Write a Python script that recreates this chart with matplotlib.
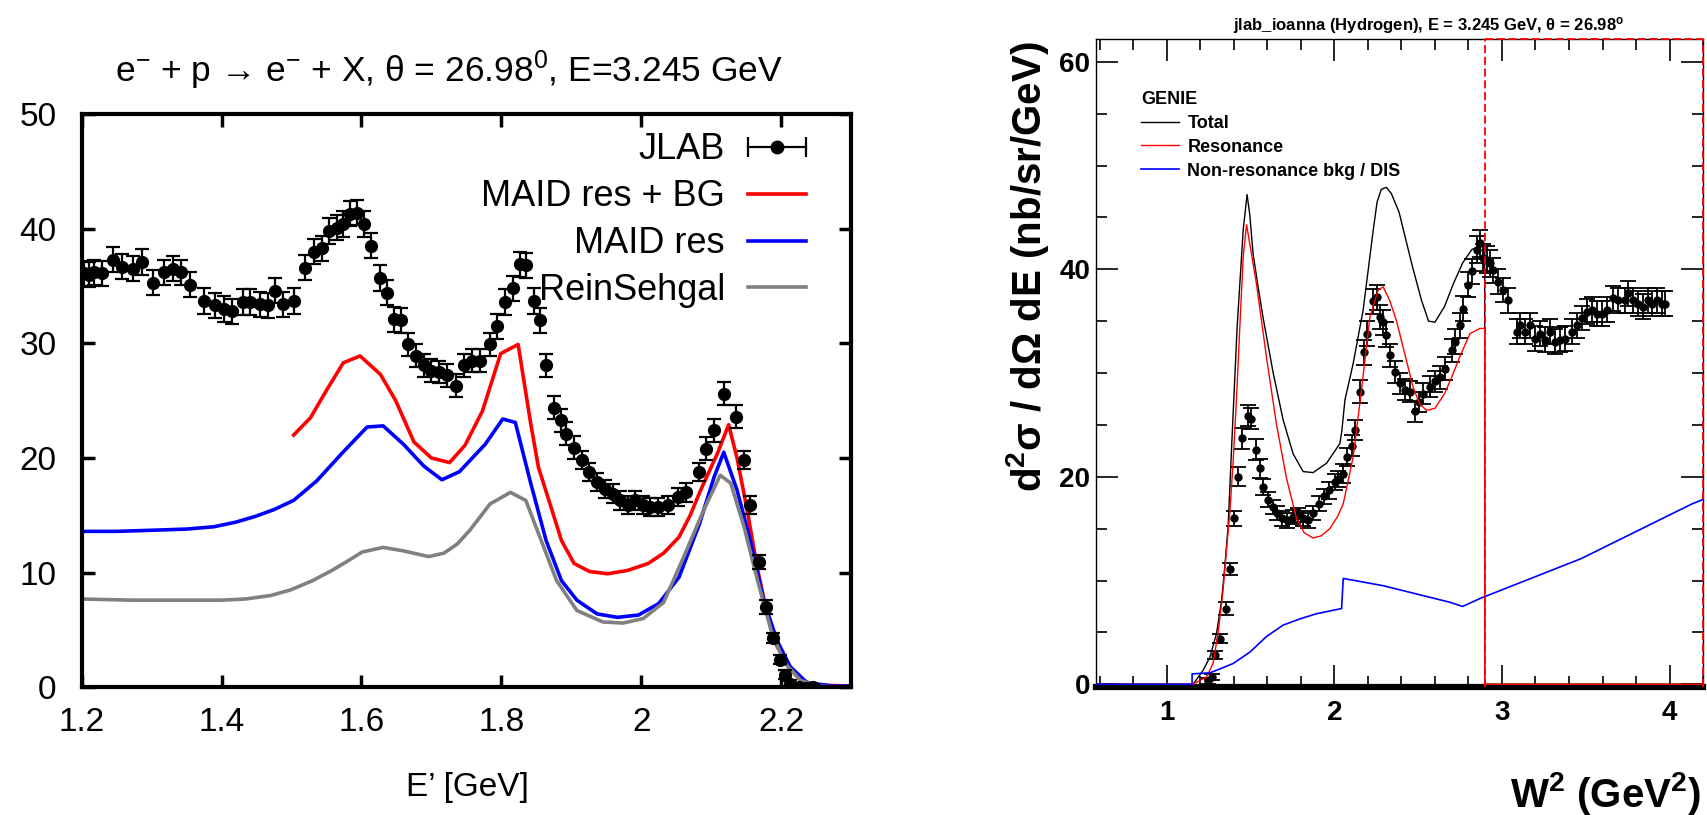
import matplotlib
matplotlib.use("Agg")
import matplotlib.pyplot as plt
from matplotlib.lines import Line2D
from matplotlib.legend_handler import HandlerLine2D

plt.rcParams['font.family'] = ['Liberation Sans', 'DejaVu Sans']
plt.rcParams['mathtext.fontset'] = 'custom'
plt.rcParams['mathtext.rm'] = 'Liberation Sans'
plt.rcParams['mathtext.it'] = 'Liberation Sans:italic'
plt.rcParams['mathtext.bf'] = 'Liberation Sans:bold'

# ---------------- left panel: E' spectrum ----------------
ep_data = [1.204, 1.211, 1.218, 1.229, 1.245, 1.258, 1.274, 1.286, 1.302, 1.317, 1.331, 1.342, 1.355,
           1.375, 1.390, 1.404, 1.415, 1.430, 1.441, 1.455, 1.466, 1.477, 1.488, 1.503,
           1.519, 1.532, 1.543, 1.554, 1.565, 1.574, 1.583, 1.594, 1.603, 1.614,
           1.627, 1.636, 1.646, 1.656, 1.667, 1.678, 1.689, 1.700, 1.711, 1.722, 1.735,
           1.746, 1.758, 1.769, 1.784, 1.794, 1.805, 1.816, 1.827, 1.835, 1.846, 1.855, 1.864, 1.875,
           1.886, 1.893, 1.904, 1.915, 1.926, 1.937, 1.948, 1.959, 1.970, 1.981, 1.991, 2.002, 2.013,
           2.024, 2.039, 2.053, 2.064,
           2.082, 2.092, 2.104, 2.118, 2.135, 2.147, 2.156, 2.168, 2.179, 2.189, 2.199, 2.205, 2.213,
           2.225, 2.236, 2.245]
jlab_val = [36.1, 36.0, 36.2, 36.1, 37.3, 36.7, 36.5, 37.1, 35.3, 36.2, 36.5, 36.2, 35.1,
            33.7, 33.3, 33.0, 32.8, 33.6, 33.6, 33.4, 33.3, 34.6, 33.4, 33.7,
            36.6, 38.0, 38.3, 39.8, 40.1, 40.4, 41.3, 41.4, 40.4, 38.5,
            35.7, 34.4, 32.1, 32.0, 29.9, 28.9, 28.1, 27.6, 27.5, 27.2, 26.3,
            28.1, 28.5, 28.5, 29.9, 31.5, 33.6, 34.8, 36.9, 36.8, 33.7, 32.0, 28.1, 24.4,
            23.3, 22.1, 20.9, 19.8, 18.8, 17.9, 17.3, 16.9, 16.3, 15.9, 16.3, 15.9, 15.7,
            15.7, 15.9, 16.6, 17.0,
            18.8, 20.8, 22.4, 25.6, 23.6, 19.8, 15.9, 10.9, 7.0, 4.3, 2.4, 1.1, 0.3,
            0.0, -0.1, 0.0]
jlab_err = [1.1, 1.1, 1.1, 1.1, 1.1, 1.1, 1.1, 1.1, 1.1, 1.1, 1.1, 1.1, 1.1,
            1.1, 1.1, 1.1, 1.1, 1.1, 1.1, 1.1, 1.1, 1.1, 1.1, 1.1,
            1.1, 1.1, 1.1, 1.1, 1.1, 1.1, 1.1, 1.1, 1.1, 1.1,
            1.1, 1.1, 1.1, 1.1, 1.0, 1.0, 1.0, 1.0, 1.0, 1.0, 1.0,
            1.0, 1.0, 1.0, 1.0, 1.1, 1.1, 1.1, 1.1, 1.1, 1.1, 1.1, 1.0, 1.0,
            1.0, 1.0, 1.0, 0.8, 0.8, 0.8, 0.8, 0.8, 0.8, 0.8, 0.8, 0.8, 0.8,
            0.8, 0.8, 0.8, 0.8,
            0.8, 1.0, 1.0, 1.0, 1.0, 0.8, 0.8, 0.6, 0.6, 0.4, 0.4, 0.4, 0.3,
            0.3, 0.3, 0.3]

ep_maid_bg = [1.503, 1.527, 1.550, 1.574, 1.598, 1.627, 1.649, 1.675, 1.700, 1.726, 1.748, 1.773,
              1.799, 1.824, 1.842, 1.853, 1.868, 1.886, 1.904, 1.926, 1.952, 1.981, 2.010, 2.032,
              2.054, 2.070, 2.085, 2.109, 2.125, 2.137, 2.151, 2.166, 2.180, 2.194, 2.209, 2.228,
              2.252, 2.300]
xs_maid_bg = [22.0, 23.5, 25.9, 28.3, 28.9, 27.3, 25.0, 21.4, 20.0, 19.6, 21.1, 24.1,
              29.1, 29.9, 23.0, 19.2, 16.3, 12.8, 10.8, 10.1, 9.9, 10.2, 10.8, 11.7,
              13.1, 15.0, 17.2, 20.4, 22.9, 20.0, 15.6, 10.4, 6.4, 3.6, 1.9, 0.6,
              0.2, 0.1]

ep_maid = [1.200, 1.250, 1.302, 1.350, 1.389, 1.420, 1.448, 1.475, 1.503, 1.536, 1.572, 1.608,
           1.631, 1.660, 1.689, 1.715, 1.740, 1.777, 1.802, 1.820, 1.842, 1.864, 1.886, 1.908,
           1.937, 1.966, 1.996, 2.025, 2.054, 2.083, 2.104, 2.118, 2.137, 2.156, 2.175, 2.194,
           2.213, 2.237, 2.275, 2.300]
xs_maid = [13.6, 13.6, 13.7, 13.8, 14.0, 14.4, 14.9, 15.5, 16.3, 18.0, 20.4, 22.7,
           22.8, 21.2, 19.3, 18.1, 18.8, 21.2, 23.4, 23.1, 17.8, 12.8, 9.3, 7.6,
           6.4, 6.1, 6.3, 7.3, 9.6, 14.2, 18.3, 20.5, 17.2, 12.8, 7.6, 4.1,
           1.8, 0.4, 0.1, 0.1]

ep_rs = [1.200, 1.270, 1.339, 1.400, 1.434, 1.470, 1.499, 1.530, 1.558, 1.580, 1.601, 1.631,
         1.660, 1.696, 1.718, 1.737, 1.755, 1.784, 1.813, 1.835, 1.857, 1.879, 1.908, 1.945,
         1.974, 2.003, 2.032, 2.061, 2.089, 2.113, 2.128, 2.147, 2.166, 2.185, 2.204, 2.228,
         2.252, 2.300]
xs_rs = [7.7, 7.6, 7.6, 7.6, 7.7, 8.0, 8.5, 9.3, 10.2, 11.0, 11.8, 12.2,
         11.9, 11.4, 11.7, 12.5, 13.7, 16.0, 17.0, 16.3, 12.8, 9.3, 6.7, 5.7,
         5.6, 6.0, 7.4, 11.4, 15.4, 18.5, 17.8, 14.0, 9.4, 5.1, 2.2, 0.6,
         0.1, 0.0]

ep_ticks = [1.2, 1.4, 1.6, 1.8, 2.0, 2.2]
ep_tick_labels = ['1.2', '1.4', '1.6', '1.8', '2', '2.2']
left_yticks = [0, 10, 20, 30, 40, 50]
left_labels = ['JLAB', 'MAID res + BG', 'MAID res', 'ReinSehgal']

# ---------------- right panel: W^2 spectrum ----------------
w2_data = [1.245, 1.270, 1.290, 1.316, 1.356, 1.376, 1.400, 1.426, 1.450, 1.482,
           1.501, 1.530, 1.555, 1.575, 1.605, 1.631, 1.655, 1.685, 1.715, 1.754,
           1.784, 1.814, 1.844, 1.873, 1.909, 1.939, 1.969, 2.003, 2.023, 2.053,
           2.073, 2.103, 2.122, 2.152, 2.176, 2.196, 2.228, 2.252, 2.272, 2.291,
           2.311, 2.331, 2.361, 2.391, 2.421, 2.451, 2.480, 2.507, 2.530, 2.570,
           2.600, 2.630, 2.660, 2.700, 2.719, 2.749, 2.765, 2.799, 2.819, 2.849,
           2.869, 2.888, 2.909, 2.928, 2.948, 2.978, 3.008, 3.038, 3.088, 3.107,
           3.137, 3.167, 3.197, 3.227, 3.257, 3.287, 3.316, 3.346, 3.376, 3.416,
           3.446, 3.476, 3.506, 3.536, 3.565, 3.595, 3.625, 3.665, 3.694, 3.734,
           3.754, 3.784, 3.814, 3.844, 3.873, 3.894, 3.924, 3.953, 3.973]
w2_val = [0.3, 0.7, 2.8, 4.4, 7.3, 11.1, 16.0, 20.0, 23.7, 25.9,
          25.6, 22.6, 20.8, 19.0, 17.8, 17.1, 16.5, 16.0, 15.8, 16.1,
          16.3, 16.0, 15.8, 16.5, 17.4, 18.1, 18.7, 19.5, 19.8, 20.3,
          21.9, 23.0, 24.5, 28.2, 32.0, 33.8, 36.9, 37.3, 35.4, 34.9,
          33.7, 31.7, 30.1, 29.0, 28.4, 28.2, 26.3, 27.2, 28.0, 28.7,
          29.2, 29.6, 30.4, 32.2, 33.0, 34.6, 36.2, 38.5, 39.8, 41.9,
          42.5, 41.1, 40.9, 40.6, 39.9, 38.8, 38.0, 37.0, 34.0, 34.6,
          34.0, 34.6, 33.3, 33.8, 33.2, 34.0, 33.0, 33.2, 33.3, 34.0,
          34.6, 35.3, 35.9, 36.1, 35.7, 35.7, 36.1, 37.2, 37.0, 37.0,
          37.7, 37.0, 36.7, 36.4, 37.0, 36.7, 37.0, 36.7, 36.7]
w2_err = [0.3, 0.3, 0.4, 0.4, 0.6, 0.6, 0.7, 0.9, 1.0, 1.0,
          1.0, 1.0, 0.9, 0.8, 0.7, 0.7, 0.7, 0.7, 0.7, 0.7,
          0.7, 0.7, 0.7, 0.7, 0.7, 0.7, 0.8, 0.8, 0.8, 0.9,
          0.9, 1.0, 1.0, 1.1, 1.2, 1.2, 1.2, 1.2, 1.2, 1.2,
          1.2, 1.1, 1.1, 1.0, 1.0, 1.0, 1.0, 1.0, 1.0, 1.0,
          1.0, 1.1, 1.1, 1.1, 1.2, 1.2, 1.2, 1.2, 1.2, 1.3,
          1.3, 1.3, 1.3, 1.3, 1.2, 1.2, 1.2, 1.2, 1.2, 1.2,
          1.2, 1.2, 1.2, 1.2, 1.2, 1.2, 1.2, 1.2, 1.2, 1.2,
          1.2, 1.2, 1.2, 1.2, 1.2, 1.2, 1.2, 1.2, 1.2, 1.2,
          1.2, 1.2, 1.2, 1.2, 1.2, 1.2, 1.2, 1.2, 1.2]

w2_total = [0.576, 1.157, 1.217, 1.257, 1.297, 1.327, 1.346, 1.366, 1.390, 1.420, 1.456, 1.479,
            1.495, 1.515, 1.545, 1.575, 1.635, 1.694, 1.754, 1.814, 1.873, 1.953, 2.033, 2.045,
            2.063, 2.112, 2.172, 2.232, 2.255, 2.280, 2.310, 2.340, 2.386, 2.430, 2.467, 2.520,
            2.562, 2.600, 2.657, 2.710, 2.765, 2.820, 2.860, 2.897, 2.897, 4.200]
xs_total = [0.0, 0.0, 1.35, 2.6, 4.9, 8.1, 11.3, 15.2, 24.0, 34.5, 43.8, 47.2,
            45.3, 41.5, 38.3, 35.3, 30.0, 25.5, 22.2, 20.5, 20.4, 21.3, 23.2, 24.5,
            27.4, 30.9, 36.1, 43.8, 46.5, 47.7, 47.9, 47.3, 45.5, 42.6, 40.2, 37.0,
            35.0, 34.9, 36.4, 38.6, 40.6, 41.9, 42.2, 42.4, 0.0, 0.0]

w2_res = [0.576, 1.157, 1.237, 1.276, 1.306, 1.336, 1.356, 1.376, 1.396, 1.416, 1.436, 1.456,
          1.476, 1.500, 1.536, 1.595, 1.655, 1.715, 1.774, 1.820, 1.873, 1.920, 1.973, 2.020,
          2.053, 2.112, 2.162, 2.212, 2.261, 2.291, 2.330, 2.371, 2.430, 2.470, 2.510, 2.550,
          2.600, 2.657, 2.700, 2.749, 2.809, 2.869, 2.897, 2.897, 4.200]
xs_res = [0.0, 0.0, 0.7, 2.0, 4.9, 9.1, 12.9, 16.5, 21.5, 27.5, 34.5, 41.2,
          44.3, 42.0, 38.5, 31.5, 25.0, 19.8, 16.0, 14.6, 14.1, 14.3, 15.0, 16.2,
          17.4, 21.9, 28.4, 35.4, 38.0, 38.3, 37.0, 35.0, 31.2, 28.6, 27.0, 26.4,
          26.6, 28.0, 29.6, 31.6, 33.8, 34.3, 34.3, 0.0, 0.0]

w2_bkg = [0.576, 1.151, 1.151, 1.257, 1.297, 1.396, 1.496, 1.595, 1.694, 1.794, 1.894, 2.043,
          2.053, 2.291, 2.690, 2.765, 2.874, 3.471, 4.136, 4.200]
xs_bkg = [0.0, 0.0, 1.0, 1.1, 1.35, 2.0, 3.1, 4.6, 5.7, 6.3, 6.8, 7.3,
          10.2, 9.5, 7.9, 7.5, 8.3, 12.1, 17.4, 17.8]

w2_cut = 2.897  # left edge of the red dashed region
w2_lim = (0.576, 4.2)
xs_lim = (-0.3, 62.2)
w2_major = [1, 2, 3, 4]
w2_minor = [0.6, 0.8, 1.2, 1.4, 1.6, 1.8, 2.2, 2.4, 2.6, 2.8, 3.2, 3.4, 3.6, 3.8, 4.2]
xs_major = [0, 20, 40, 60]
xs_minor = [5, 10, 15, 25, 30, 35, 45, 50, 55]
right_labels = ['Total', 'Resonance', 'Non-resonance bkg / DIS']

fig = plt.figure(figsize=(17.07, 8.15), dpi=100)

# ======== left panel ========
axL = fig.add_axes([0.04786, 0.1567, 0.4507, 0.7034])
l_bg, = axL.plot(ep_maid_bg, xs_maid_bg, color='#ff0000', lw=2.6)
l_res, = axL.plot(ep_maid, xs_maid, color='#0000ff', lw=2.6)
l_rs, = axL.plot(ep_rs, xs_rs, color='#808080', lw=2.6)
axL.errorbar(ep_data, jlab_val, yerr=jlab_err, fmt='o', color='k', ms=8.5,
             elinewidth=1.6, capsize=5, capthick=1.6, zorder=4)

axL.set_xlim(1.2, 2.3)
axL.set_ylim(0, 50)
axL.set_xticks(ep_ticks)
axL.set_xticklabels(ep_tick_labels)
axL.set_yticks(left_yticks)
axL.tick_params(direction='in', length=9, width=2.5, top=True, right=True,
                labelsize=24, color='k')
axL.tick_params(axis='x', pad=14)
axL.tick_params(axis='y', pad=18)
for sp in axL.spines.values():
    sp.set_linewidth(3)

jl_line = Line2D([], [], color='k', lw=1.6, marker='o', ms=9)
jl_caps = Line2D([], [], color='k', lw=0, marker='|', ms=14, mew=1.6)
axL.legend([(jl_line, jl_caps), l_bg, l_res, l_rs], left_labels,
           handler_map={jl_caps: HandlerLine2D(numpoints=2, marker_pad=0)},
           loc='upper right', bbox_to_anchor=(0.9415, 0.968), frameon=False,
           markerfirst=False, fontsize=26, handlelength=1.6, handletextpad=0.65,
           labelspacing=0.33, borderpad=0, borderaxespad=0, numpoints=1)

fig.text(0.263, 0.8998, 'e$^{-}$ + p → e$^{-}$ + X, θ = 26.98$^{0}$, E=3.245 GeV',
         ha='center', va='baseline', fontsize=25.5)
fig.text(0.2736, 0.034, 'E’ [GeV]', ha='center', va='center', fontsize=24)

# ======== right panel ========
axR = fig.add_axes([0.6419, 0.1566, 0.3558, 0.7956])
axR.errorbar(w2_data, w2_val, yerr=w2_err, fmt='o', color='k', ms=5,
             elinewidth=1.3, capsize=5.5, capthick=1.3, zorder=3)
t_line, = axR.plot(w2_total, xs_total, color='k', lw=1.0, zorder=4)
r_line, = axR.plot(w2_res, xs_res, color='#ff0000', lw=1.0, zorder=4)
b_line, = axR.plot(w2_bkg, xs_bkg, color='#0000ff', lw=1.2, zorder=4)

axR.set_xlim(*w2_lim)
axR.set_ylim(*xs_lim)
axR.set_xticks(w2_major)
axR.set_xticks(w2_minor, minor=True)
axR.set_yticks(xs_major)
axR.set_yticks(xs_minor, minor=True)
axR.set_xticklabels([str(v) for v in w2_major], fontweight='bold')
axR.set_yticklabels([str(v) for v in xs_major], fontweight='bold')
axR.tick_params(which='major', direction='in', length=16, width=1.2,
                top=True, right=True, labelsize=20)
axR.tick_params(which='minor', direction='in', length=8, width=1.2,
                top=True, right=True)
axR.tick_params(axis='x', pad=9)
axR.tick_params(axis='y', pad=4)
for name, sp in axR.spines.items():
    sp.set_linewidth(1.0)
axR.spines['bottom'].set_linewidth(4.5)

# red dashed region
dash = (0, (4.5, 2))
axR.axvline(w2_cut, color='#ff0000', lw=1.3, ls=dash, zorder=5)
axR.axvline(w2_lim[1], color='#ff0000', lw=1.3, ls=dash, zorder=5, clip_on=False)
axR.hlines(xs_lim[1], w2_cut, w2_lim[1], color='#ff0000', lw=1.3, ls=dash,
           zorder=5, clip_on=False)

axR.legend([t_line, r_line, b_line], right_labels, loc='upper left',
           bbox_to_anchor=(0.066, 0.928), title='GENIE', alignment='left',
           frameon=False, prop={'weight': 'bold', 'size': 13},
           title_fontproperties={'weight': 'bold', 'size': 13},
           handlelength=2.1, handletextpad=0.45, labelspacing=0.38,
           borderpad=0.3, borderaxespad=0)

fig.text(0.8369, 0.9632, 'jlab_ioanna (Hydrogen), E = 3.245 GeV, θ = 26.98$^{\\mathbf{o}}$',
         ha='center', va='baseline', fontsize=12, fontweight='bold')
fig.text(0.602, 0.9485, 'd$^{\\mathbf{2}}$σ / dΩ dE (nb/sr/GeV)', rotation=90,
         ha='center', va='top', fontsize=29, fontweight='bold')
fig.text(0.9965, 0.0102, 'W$^{\\mathbf{2}}$ (GeV$^{\\mathbf{2}}$)', ha='right',
         va='baseline', fontsize=29, fontweight='bold')

fig.savefig('out.png', dpi=100)
